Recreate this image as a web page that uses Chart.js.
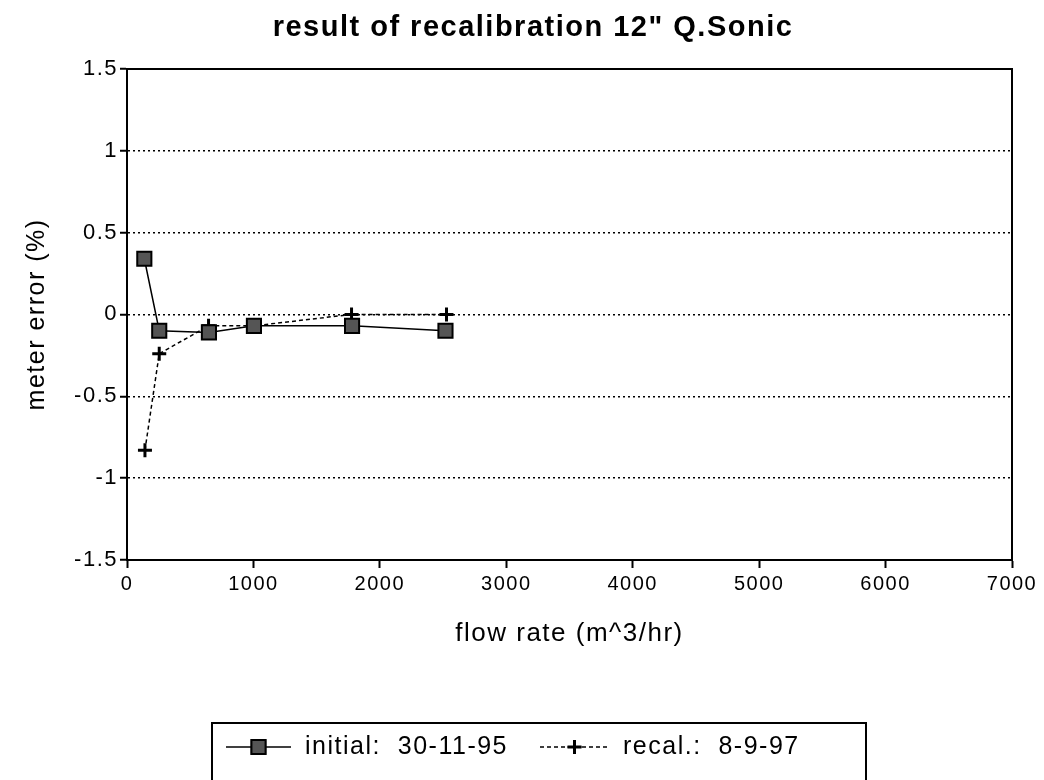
<!DOCTYPE html>
<html lang="en">
<head>
    <meta charset="UTF-8">
    <title>result of recalibration 12" Q.Sonic</title>
    <script src="https://cdn.jsdelivr.net/npm/chart.js"></script>
    <style>
        body {
            margin: 0;
            background: #fff;
        }
        #wrap {
            width: 1044px;
            height: 780px;
        }
    </style>
</head>
<body>
    <div id="wrap">
        <canvas id="calChart" width="1044" height="780"></canvas>
    </div>

    <script>
        // values
        const initialFlow = [137, 255, 648, 1004, 1780, 2519];
        const initialError = [0.34, -0.10, -0.11, -0.07, -0.07, -0.10];
        const recalFlow = [142, 255, 645, 1004, 1776, 2527];
        const recalError = [-0.83, -0.24, -0.07, -0.07, 0.0, 0.0];
        const seriesNames = ['initial:  30-11-95', 'recal.:  8-9-97'];
        const chartTitle = 'result of recalibration 12" Q.Sonic';
        const xTitle = 'flow rate (m^3/hr)';
        const yTitle = 'meter error (%)';

        const fontFamily = '"Liberation Sans", Arial, sans-serif';

        function toPoints(xs, ys) {
            return xs.map((x, i) => ({ x: x, y: ys[i] }));
        }

        // the old plotter font is wide, so space the letters out a little
        const wideText = {
            id: 'wideText',
            beforeUpdate(chart) { chart.ctx.letterSpacing = '1.5px'; },
            beforeDraw(chart) { chart.ctx.letterSpacing = '1.5px'; }
        };

        // boxed legend under the chart, line + marker like the original
        const boxedLegend = {
            id: 'boxedLegend',
            afterDraw(chart) {
                const ctx = chart.ctx;
                ctx.save();
                ctx.strokeStyle = '#000';
                ctx.lineWidth = 2;
                ctx.beginPath();
                ctx.moveTo(212, 790);
                ctx.lineTo(212, 723);
                ctx.lineTo(866, 723);
                ctx.lineTo(866, 790);
                ctx.stroke();

                const rowY = 747;
                const samples = [
                    { x1: 226, x2: 291, text: 305 },
                    { x1: 540, x2: 609, text: 623 }
                ];
                chart.data.datasets.forEach((ds, i) => {
                    const s = samples[i];
                    ctx.strokeStyle = '#000';
                    ctx.lineWidth = ds.borderWidth;
                    ctx.setLineDash(ds.borderDash || []);
                    ctx.beginPath();
                    ctx.moveTo(s.x1, rowY);
                    ctx.lineTo(s.x2, rowY);
                    ctx.stroke();
                    ctx.setLineDash([]);
                    Chart.helpers.drawPoint(ctx, {
                        pointStyle: ds.pointStyle,
                        radius: ds.pointRadius,
                        borderWidth: ds.pointBorderWidth,
                        rotation: 0
                    }, (s.x1 + s.x2) / 2, rowY);
                    ctx.fillStyle = ds.pointBackgroundColor;
                    ctx.strokeStyle = '#000';
                    ctx.lineWidth = ds.pointBorderWidth;
                    ctx.fill();
                    ctx.stroke();

                    ctx.fillStyle = '#000';
                    ctx.font = '25px ' + fontFamily;
                    ctx.textBaseline = 'middle';
                    ctx.fillText(ds.label, s.text, rowY);
                });
                ctx.restore();
            }
        };

        const ctx = document.getElementById('calChart').getContext('2d');

        const calChart = new Chart(ctx, {
            type: 'line',
            data: {
                datasets: [{
                    label: seriesNames[0],
                    data: toPoints(initialFlow, initialError),
                    borderColor: '#000',
                    borderWidth: 1.5,
                    pointStyle: 'rect',
                    pointRadius: 10,
                    pointBorderWidth: 2,
                    pointBorderColor: '#000',
                    pointBackgroundColor: '#555',
                    fill: false,
                    tension: 0
                }, {
                    label: seriesNames[1],
                    data: toPoints(recalFlow, recalError),
                    borderColor: '#000',
                    borderWidth: 1.5,
                    borderDash: [4, 3],
                    pointStyle: 'cross',
                    pointRadius: 7,
                    pointBorderWidth: 3,
                    pointBorderColor: '#000',
                    pointBackgroundColor: '#000',
                    fill: false,
                    tension: 0
                }]
            },
            options: {
                responsive: false,
                animation: false,
                layout: {
                    padding: { left: 22, right: 0, top: 0, bottom: 0 }
                },
                plugins: {
                    legend: { display: false },
                    tooltip: { enabled: false },
                    title: {
                        display: true,
                        text: chartTitle,
                        color: '#000',
                        font: { family: fontFamily, size: 29, weight: 'bold' },
                        padding: { top: 11, bottom: 23 }
                    }
                },
                scales: {
                    x: {
                        type: 'linear',
                        position: 'bottom',
                        min: 0,
                        max: 7000,
                        ticks: {
                            stepSize: 1000,
                            color: '#000',
                            padding: 4,
                            maxRotation: 0,
                            font: { family: fontFamily, size: 20 },
                            callback: v => String(v)
                        },
                        grid: {
                            drawOnChartArea: false,
                            tickLength: 8,
                            tickColor: '#000',
                            tickWidth: 2
                        },
                        border: { color: '#000', width: 2 },
                        title: {
                            display: true,
                            text: xTitle,
                            color: '#000',
                            font: { family: fontFamily, size: 26 },
                            padding: { top: 0, bottom: 131 }
                        },
                        afterFit(scale) { scale.height = 220; }
                    },
                    xTop: {
                        type: 'linear',
                        position: 'top',
                        ticks: { display: false },
                        grid: { drawOnChartArea: false, drawTicks: false },
                        border: { color: '#000', width: 2 },
                        afterFit(scale) { scale.height = 0; }
                    },
                    y: {
                        type: 'linear',
                        position: 'left',
                        min: -1.5,
                        max: 1.5,
                        ticks: {
                            stepSize: 0.5,
                            color: '#000',
                            padding: 2,
                            font: { family: fontFamily, size: 22 },
                            callback: v => String(v)
                        },
                        grid: {
                            color: c => (Math.abs(c.tick.value) === 1.5 ? 'rgba(0,0,0,0)' : '#000'),
                            lineWidth: 1.5,
                            tickLength: 7,
                            tickColor: '#000',
                            tickWidth: 2
                        },
                        border: { color: '#000', width: 2, dash: [2, 3] },
                        title: {
                            display: true,
                            text: yTitle,
                            color: '#000',
                            font: { family: fontFamily, size: 25 },
                            padding: 0
                        },
                        afterFit(scale) { scale.width = 105; }
                    },
                    yRight: {
                        type: 'linear',
                        position: 'right',
                        ticks: { display: false },
                        grid: { drawOnChartArea: false, drawTicks: false },
                        border: { color: '#000', width: 2 },
                        afterFit(scale) { scale.width = 32; }
                    }
                }
            },
            plugins: [wideText, boxedLegend]
        });
    </script>
</body>
</html>
